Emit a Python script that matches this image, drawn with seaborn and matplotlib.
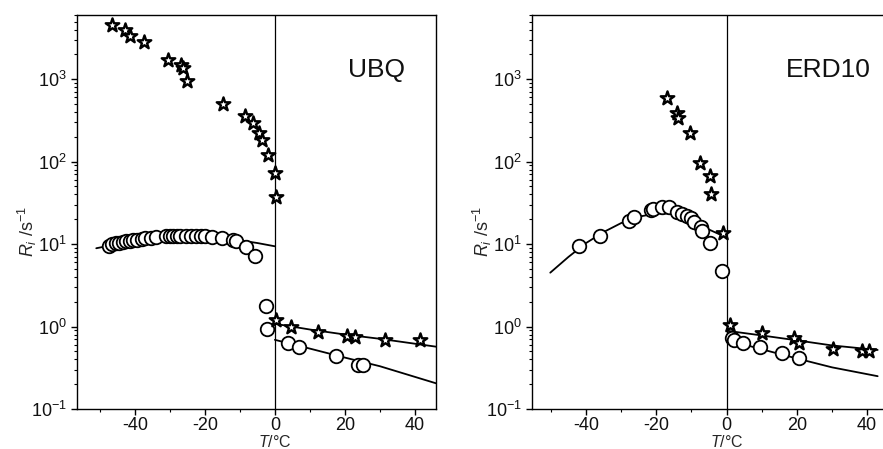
import numpy as np
import pandas as pd
import matplotlib
matplotlib.use("Agg")
import matplotlib.pyplot as plt
import seaborn as sns
from matplotlib.ticker import LogLocator, FixedLocator, NullFormatter

sns.set_theme(style="ticks")
plt.rcParams['font.family'] = ['Liberation Sans', 'DejaVu Sans']
plt.rcParams['mathtext.fontset'] = 'custom'
plt.rcParams['mathtext.rm'] = 'Liberation Sans'
plt.rcParams['mathtext.it'] = 'Liberation Sans:italic'
plt.rcParams['mathtext.bf'] = 'Liberation Sans:bold'

# ---------------- UBQ ----------------
ubq_star_T = [-46.5, -42.7, -41.5, -37.5, -30.6, -26.8, -26.3, -25.1, -14.9, -8.4, -6.3, -4.4, -3.7, -1.9, 0.0, 0.4]
ubq_star_R = [4510, 3930, 3320, 2830, 1700, 1480, 1350, 946, 493, 360, 290, 220, 182, 120, 72, 37]
ubq_star_warm_T = [0.4, 4.5, 12.4, 20.7, 22.8, 31.3, 41.5]
ubq_star_warm_R = [1.2, 1.0, 0.87, 0.76, 0.74, 0.69, 0.69]
ubq_circ_T = [-47.5, -46.5, -45.5, -44.5, -43.5, -42.5, -41.5, -40.5, -39.5, -38, -37, -35.5, -34,
              -31, -30, -29, -28, -27, -25.5, -24, -22.5, -21, -20, -18, -15, -12, -11, -8.2, -5.6, -2.5, -2.2]
ubq_circ_R = [9.6, 9.9, 10.2, 10.4, 10.6, 10.8, 11.0, 11.2, 11.3, 11.6, 11.8, 12.0, 12.1,
              12.4, 12.4, 12.5, 12.5, 12.5, 12.5, 12.5, 12.6, 12.7, 12.5, 12.3, 11.8, 11.2, 10.8, 9.1, 7.2, 1.78, 0.93]
ubq_circ_warm_T = [3.8, 6.9, 17.5, 23.7, 25.3]
ubq_circ_warm_R = [0.63, 0.57, 0.44, 0.34, 0.34]
ubq_fit_cold_T = [-51, -45, -40, -35, -30, -25, -20, -15, -10, -5, 0]
ubq_fit_cold_R = [8.9, 10.0, 10.9, 11.6, 12.1, 12.3, 12.3, 11.9, 11.1, 10.3, 9.4]
ubq_fit_star_T = [0, 10, 20, 30, 46]
ubq_fit_star_R = [1.08, 0.92, 0.80, 0.71, 0.57]
ubq_fit_circ_T = [0, 10, 20, 30, 46]
ubq_fit_circ_R = [0.69, 0.54, 0.42, 0.33, 0.205]

# ---------------- ERD10 ----------------
erd_star_T = [-16.9, -14.1, -13.8, -10.4, -7.7, -4.8, -4.5, -1.1]
erd_star_R = [594, 384, 334, 220, 95, 67, 41, 13.5]
erd_star_warm_T = [1.1, 10.0, 19.3, 20.5, 30.2, 38.6, 40.5]
erd_star_warm_R = [1.05, 0.83, 0.72, 0.63, 0.53, 0.50, 0.50]
erd_circ_T = [-41.9, -36.0, -27.7, -26.5, -21.4, -20.9, -18.4, -16.3, -14.1, -12.6, -11.2, -10.2, -9.3, -7.4, -7.0, -4.7, -1.4]
erd_circ_R = [9.5, 12.5, 19.2, 21.4, 25.8, 27.0, 27.8, 27.8, 24.5, 23.4, 21.8, 20.5, 18.6, 16.2, 14.5, 10.2, 4.75]
erd_circ_warm_T = [1.4, 2.1, 4.7, 9.5, 15.8, 20.7]
erd_circ_warm_R = [0.72, 0.68, 0.63, 0.56, 0.475, 0.42]
erd_fit_cold_T = [-50.2, -45, -40, -35, -30, -25, -20, -15, -10, -5, 0]
erd_fit_cold_R = [4.5, 7.0, 10.3, 14.0, 18.0, 21.5, 23.5, 23.5, 19.8, 15.0, 12.0]
erd_fit_star_T = [0, 10, 20, 30, 43]
erd_fit_star_R = [0.89, 0.78, 0.68, 0.59, 0.52]
erd_fit_circ_T = [0, 10, 20, 30, 43]
erd_fit_circ_R = [0.69, 0.53, 0.41, 0.32, 0.25]

panel_names = ["UBQ", "ERD10"]

fig = plt.figure(figsize=(8.83, 4.49), dpi=100)
W, H = 883, 449
axes = [fig.add_axes([77 / W, 1 - 409 / H, 359 / W, 394 / H]),
        fig.add_axes([532 / W, 1 - 409 / H, 359 / W, 394 / H])]
xlims = [(-56.5, 46), (-55.4, 46.8)]

panels = [
    (ubq_star_T, ubq_star_R, ubq_star_warm_T, ubq_star_warm_R, ubq_circ_T, ubq_circ_R,
     ubq_circ_warm_T, ubq_circ_warm_R, ubq_fit_cold_T, ubq_fit_cold_R,
     ubq_fit_star_T, ubq_fit_star_R, ubq_fit_circ_T, ubq_fit_circ_R),
    (erd_star_T, erd_star_R, erd_star_warm_T, erd_star_warm_R, erd_circ_T, erd_circ_R,
     erd_circ_warm_T, erd_circ_warm_R, erd_fit_cold_T, erd_fit_cold_R,
     erd_fit_star_T, erd_fit_star_R, erd_fit_circ_T, erd_fit_circ_R),
]

for ax, name, xl, p in zip(axes, panel_names, xlims, panels):
    (sT, sR, swT, swR, cT, cR, cwT, cwR, fcT, fcR, fsT, fsR, fciT, fciR) = p
    for x, y in [(fcT, fcR), (fsT, fsR), (fciT, fciR)]:
        sns.lineplot(x=x, y=y, ax=ax, color='black', lw=1.3, sort=False, zorder=2)
    ax.axvline(0, color='black', lw=0.9, zorder=1)
    sns.scatterplot(x=cT + cwT, y=cR + cwR, ax=ax, marker='o', s=95,
                    facecolor='white', edgecolor='black', linewidth=1.3, zorder=3)
    sns.scatterplot(x=sT + swT, y=sR + swR, ax=ax, marker='*', s=105,
                    facecolor='white', edgecolor='black', linewidth=1.7, zorder=4)
    ax.set_yscale('log')
    ax.set_ylim(0.1, 6000)
    ax.set_xlim(*xl)
    ax.xaxis.set_major_locator(FixedLocator([-40, -20, 0, 20, 40]))
    ax.xaxis.set_minor_locator(FixedLocator([-50, -30, -10, 10, 30]))
    ax.yaxis.set_major_locator(FixedLocator([0.1, 1, 10, 100, 1000]))
    ax.yaxis.set_minor_locator(LogLocator(base=10, subs=np.arange(2, 10)))
    ax.yaxis.set_minor_formatter(NullFormatter())
    ax.set_yticklabels([r'10$^{-1}$', r'10$^{0}$', r'10$^{1}$', r'10$^{2}$', r'10$^{3}$'])
    ax.set_xticklabels(['-40', '-20', '0', '20', '40'])
    ax.tick_params(axis='both', which='major', direction='out', length=4, width=1,
                   labelsize=13, color='black', labelcolor='#111111')
    ax.tick_params(axis='x', which='major', pad=1.5)
    ax.tick_params(axis='both', which='minor', direction='out', length=2, width=0.8, color='black')
    for s in ax.spines.values():
        s.set_color('black')
        s.set_linewidth(1.0)
    ax.set_xlabel(r'$T$/°C', fontsize=11.5, labelpad=0)
    ax.set_ylabel(r'$R_{i}$ /s$^{-1}$', fontsize=13, labelpad=6)
    ax.yaxis.set_label_coords(-0.105, 0.45)
    ax.xaxis.set_label_coords((0 - xl[0]) / (xl[1] - xl[0]), -0.064)
    ax.text(29, 1300, name, fontsize=19, ha='center', va='center', color='#111111')
    ax.set_facecolor('white')

fig.patch.set_facecolor('white')
fig.savefig('out.png', dpi=100, facecolor='white')
